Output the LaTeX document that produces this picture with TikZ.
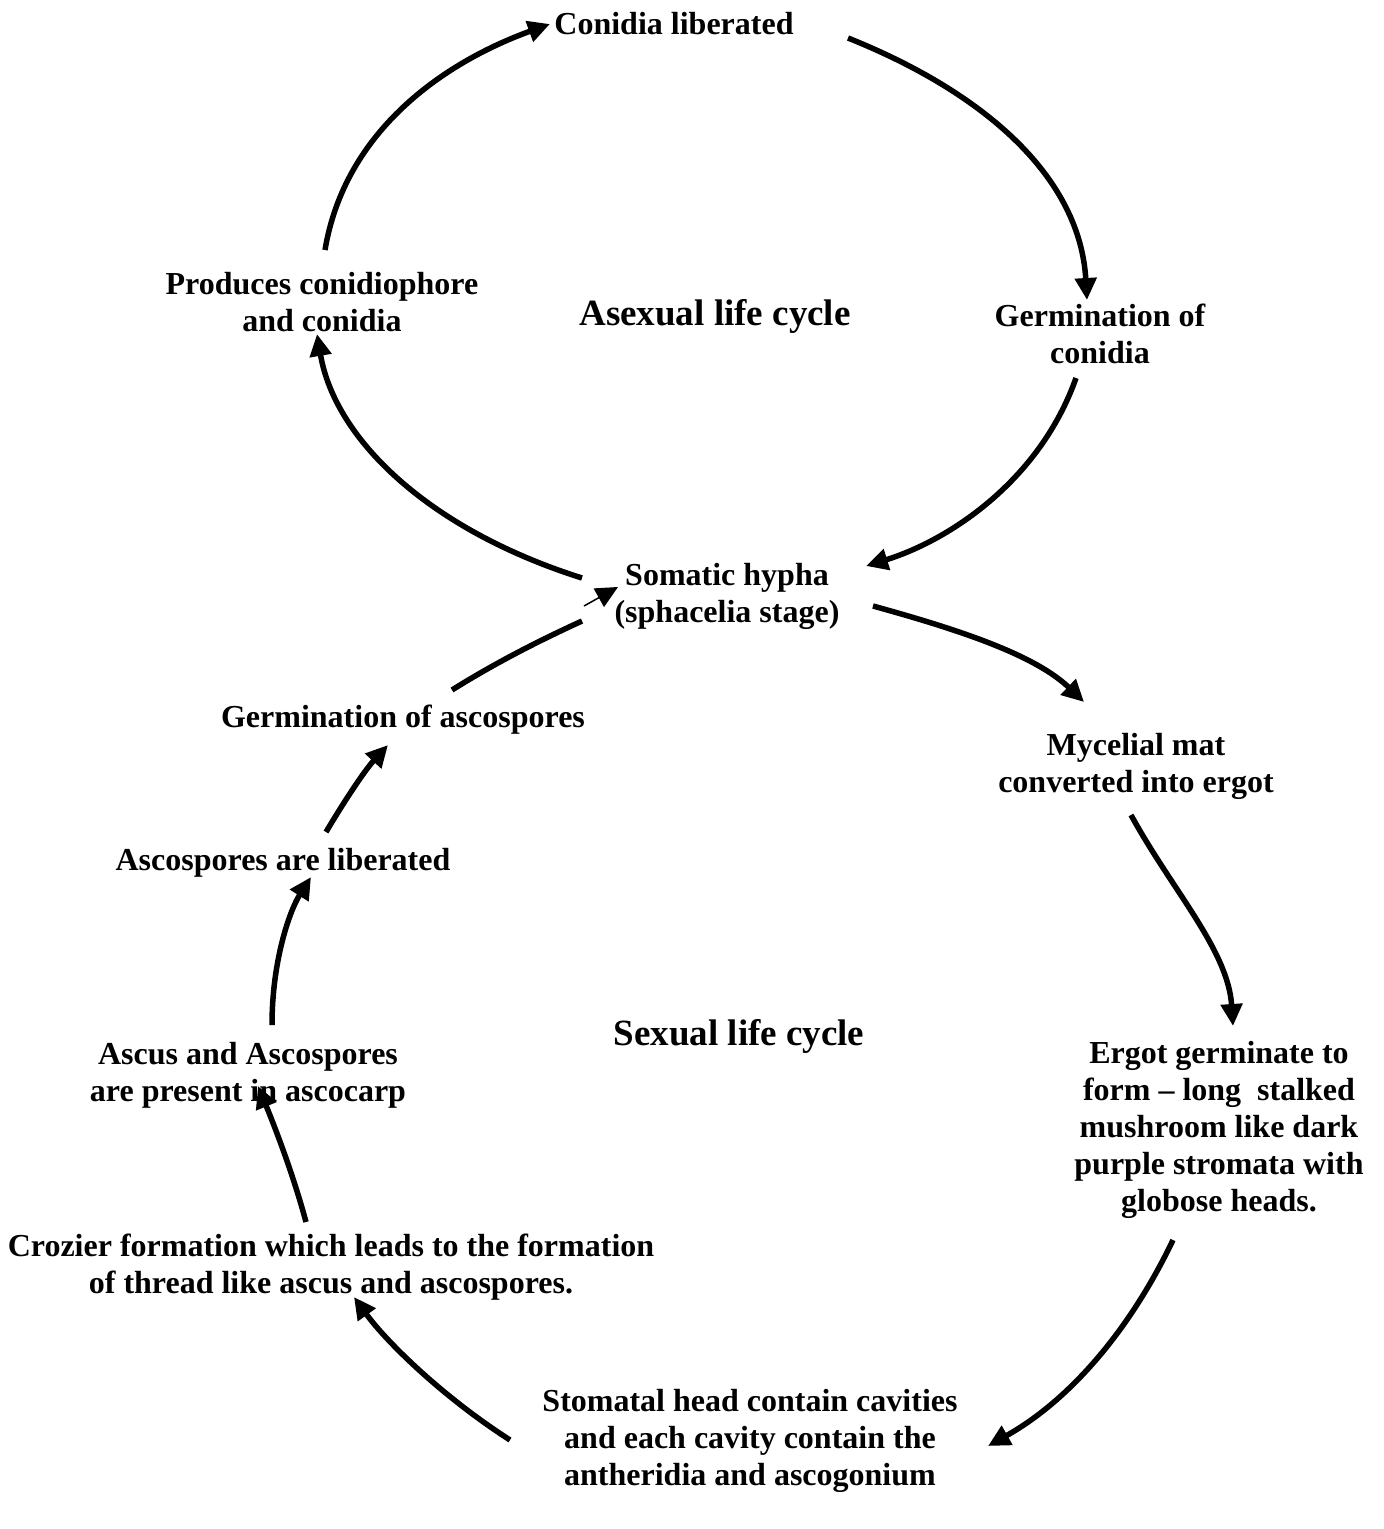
\documentclass[tikz,border=0pt]{standalone}
\usepackage{fontspec}
\setmainfont{Liberation Serif}
\usetikzlibrary{arrows.meta}
\begin{document}
\begin{tikzpicture}[x=1pt,y=-1pt,
  lbl/.style={font=\bfseries\fontsize{32}{37}\selectfont,align=center,inner sep=0pt},
  ttl/.style={font=\bfseries\fontsize{37}{42}\selectfont,inner sep=0pt},
  tipshape/.style={-{Triangle[length=22pt,width=21pt]}},
  flow/.style={line width=5.5pt,tipshape},
  shaft/.style={line width=5.5pt},
  thin/.style={line width=1.5pt,-{Triangle[length=33pt,width=30pt]}}]
\useasboundingbox (0,0) rectangle (1384,1529);

% stage labels
\node[lbl] (conlib) at (674,24) {Conidia liberated};
\node[lbl] (prod) at (322,302) {Produces conidiophore\\and conidia};
\node[ttl] (asex) at (715,316) {Asexual life cycle};
\node[lbl] (germcon) at (1100,334) {Germination of\\conidia};
\node[lbl] (soma) at (727,596) {Somatic hypha\\(sphacelia stage)};
\node[lbl] (germasc) at (403,720) {Germination of ascospores};
\node[lbl] (myc) at (1136,766) {Mycelial mat\\converted into ergot};
\node[lbl] (asclib) at (283,863) {Ascospores are liberated};
\node[ttl] (sex) at (739,1036) {Sexual life cycle};
\node[lbl] (ascus) at (248,1075) {Ascus and Ascospores\\are present in ascocarp};
\node[lbl] (ergot) at (1219,1130) {Ergot germinate to\\form -- long\ \ stalked\\mushroom like dark\\purple stromata with\\globose heads.};
\node[lbl] (croz) at (331,1267) {Crozier formation which leads to the formation\\of thread like ascus and ascospores.};
\node[lbl] (stom) at (750,1441) {Stomatal head contain cavities\\and each cavity contain the\\antheridia and ascogonium};

% connector ends
\coordinate (a1s) at (325,250);  \coordinate (a1e) at (550,24);
\coordinate (a2s) at (848,38);   \coordinate (a2e) at (1087,300);
\coordinate (a3s) at (1076,378); \coordinate (a3e) at (866,566);
\coordinate (a4s) at (582,578);  \coordinate (a4e) at (317,334);
\coordinate (a5s) at (873,606);  \coordinate (a5e) at (1084,702);
\coordinate (a6s) at (452,690);  \coordinate (a6m) at (582,621);
\coordinate (a6t) at (584,606);  \coordinate (a6e) at (618,587);
\coordinate (a7s) at (326,832);  \coordinate (a7e) at (388,745);
\coordinate (a8s) at (272,1025); \coordinate (a8e) at (311,877);
\coordinate (a9s) at (306,1222); \coordinate (a9e) at (258,1086);
\coordinate (a10s) at (510,1440); \coordinate (a10e) at (354,1297);
\coordinate (a11s) at (1173,1240); \coordinate (a11e) at (988,1446);
\coordinate (a12s) at (1131,815); \coordinate (a12e) at (1233,1026);

% asexual loop
\draw[flow] (a1s) .. controls (345,130) and (445,62) .. (a1e);
\draw[flow] (a2s) .. controls (990,95) and (1080,180) .. (a2e);
\draw[flow] (a3s) .. controls (1040,480) and (950,540) .. (a3e);
\draw[flow] (a4s) .. controls (430,530) and (335,440) .. (a4e);

% sexual loop
\draw[flow] (a5s) .. controls (960,630) and (1035,655) .. (a5e);
\draw[flow] (a12s) .. controls (1172,890) and (1228,950) .. (a12e);
\draw[flow] (a11s) .. controls (1130,1330) and (1070,1400) .. (a11e);
\draw[flow] (a10s) .. controls (440,1395) and (385,1340) .. (a10e);
\draw[flow] (a9s) .. controls (292,1170) and (272,1120) .. (a9e);
\draw[flow] (a8s) .. controls (272,960) and (290,910) .. (a8e);
\draw[flow] (a7s) .. controls (345,800) and (365,770) .. (a7e);
\draw[shaft] (a6s) .. controls (500,660) and (545,638) .. (a6m);
\draw[line width=1.5pt,tipshape] (a6t) -- (a6e);
\end{tikzpicture}
\end{document}
